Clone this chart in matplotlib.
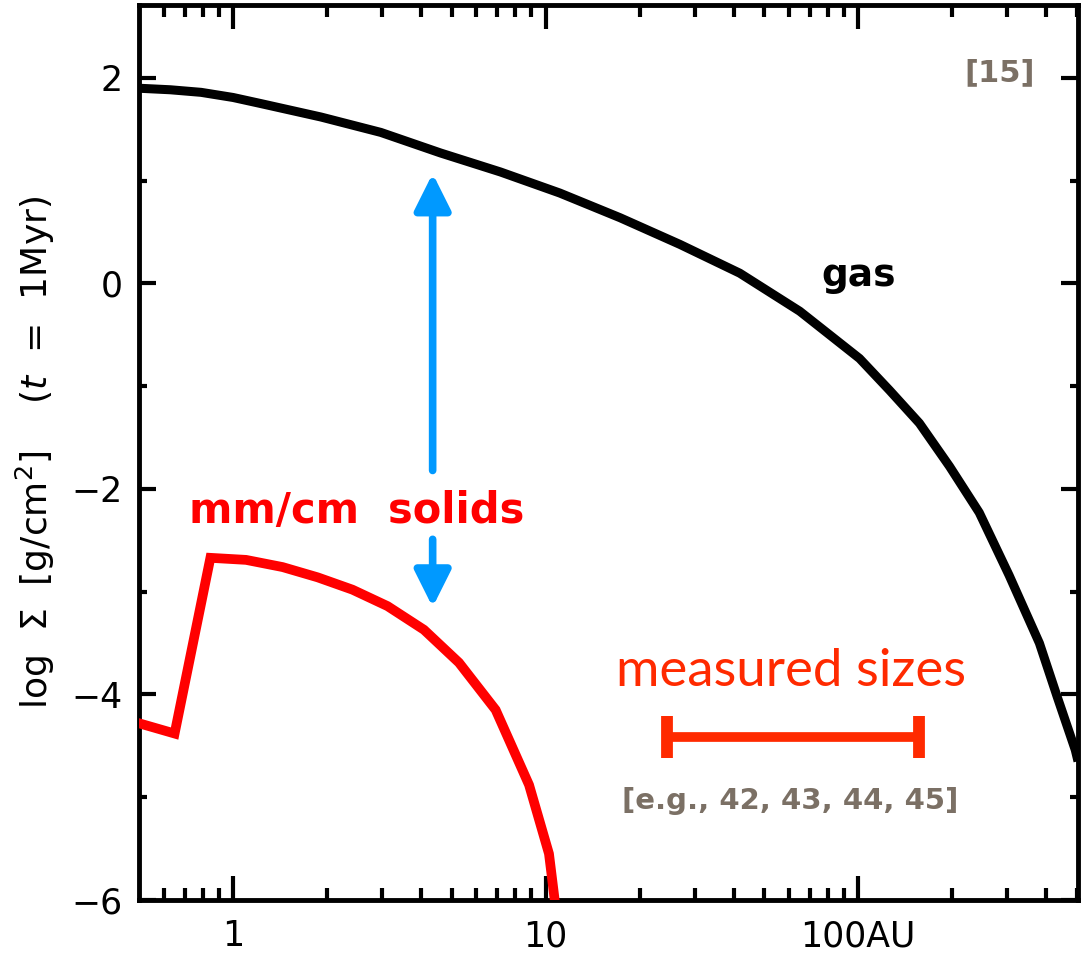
import matplotlib
matplotlib.use("Agg")
import matplotlib.pyplot as plt
from matplotlib.ticker import FixedLocator, NullFormatter

# ---- data ----
gas_r = [0.5, 0.63, 0.79, 1.0, 1.23, 1.91, 2.97, 4.61, 7.17, 11.1, 17.3, 26.9, 41.8, 65.0, 101.0,
         126.0, 157.0, 196.0, 244.0, 304.0, 380.0, 433.0, 495.0, 505.0]
gas_logsigma = [1.90, 1.885, 1.86, 1.81, 1.75, 1.62, 1.47, 1.27, 1.085, 0.88, 0.64, 0.38, 0.10, -0.27, -0.73,
                -1.04, -1.36, -1.78, -2.23, -2.84, -3.50, -4.02, -4.54, -4.65]

solid_r = [0.5, 0.65, 0.846, 1.10, 1.44, 1.865, 2.41, 3.12, 4.08, 5.28, 6.92, 8.85, 10.25, 11.2]
solid_logsigma = [-4.28, -4.38, -2.67, -2.69, -2.76, -2.86, -2.98, -3.14, -3.37, -3.69, -4.15, -4.88, -5.55, -6.5]

measured_range = [24.5, 156.7]
measured_level = -4.41

arrow_r = 4.35
arrow_up = [-1.82, 1.07]
arrow_down = [-2.49, -3.15]

xticks_major = [1, 10, 100]
xtick_labels = ["1", "10", "100AU"]
yticks_major = [-6, -4, -2, 0, 2]
yticks_minor = [-5, -3, -1, 1]
ytick_labels = ['\u22126', '\u22124', '\u22122', '0', '2']

plt.rcParams['mathtext.fontset'] = 'dejavusans'

fig = plt.figure(figsize=(10.81, 9.64), dpi=100)
ax = fig.add_axes([139/1081, 64/964, (1078-139)/1081, (900-5)/964])

ax.set_xscale('log')
ax.set_xlim(0.5, 505)
ax.set_ylim(-6, 2.71)

ax.plot(gas_r, gas_logsigma, color='black', lw=6.5, solid_capstyle='butt', solid_joinstyle='round', zorder=3)
ax.plot(solid_r, solid_logsigma, color='#ff0000', lw=7, solid_joinstyle='miter', zorder=3)

# measured sizes bar
mid = (measured_range[0] + measured_range[1]) / 2
ax.errorbar([mid], [measured_level],
            xerr=[[mid - measured_range[0]], [measured_range[1] - mid]],
            fmt='none', ecolor='#ff2a00', elinewidth=7, capsize=15, capthick=8.5, zorder=3)

blue = '#0099ff'
for a0, a1 in (arrow_up, arrow_down):
    ax.annotate('', xy=(arrow_r, a1), xytext=(arrow_r, a0),
                arrowprops=dict(arrowstyle='-|>,head_length=2.2,head_width=1.1', color=blue,
                                lw=5.5, shrinkA=0, shrinkB=0, mutation_scale=10))

# texts
ax.text(100, 0.07, 'gas', ha='center', va='center', fontsize=27, fontweight='bold', color='black')
ax.text(2.48, -2.21, 'mm/cm  solids', ha='center', va='center', fontsize=30, fontweight='bold', color='#ff0000')
ax.text(61, -3.78, 'measured sizes', ha='center', va='center', fontsize=38, family='Lato', color='#ff2a00')
ax.text(60.8, -5.04, '[e.g., 42, 43, 44, 45]', ha='center', va='center', fontsize=21, fontweight='bold', color='#7b7065')
ax.text(284, 2.05, '[15]', ha='center', va='center', fontsize=22, fontweight='bold', color='#7b7065')

# axes styling
for s in ax.spines.values():
    s.set_linewidth(3.5)
ax.xaxis.set_major_locator(FixedLocator(xticks_major))
ax.set_xticklabels(xtick_labels)
ax.xaxis.set_minor_locator(FixedLocator([m*d for d in (0.1, 1, 10, 100) for m in range(2, 10) if 0.5 < m*d < 505]))
ax.xaxis.set_minor_formatter(NullFormatter())
ax.yaxis.set_major_locator(FixedLocator(yticks_major))
ax.yaxis.set_minor_locator(FixedLocator(yticks_minor))
ax.set_yticklabels(ytick_labels)

ax.tick_params(axis='x', which='major', direction='in', length=17, width=3, top=True, labelsize=25, pad=14)
ax.tick_params(axis='x', which='minor', direction='in', length=8.5, width=3, top=True)
ax.tick_params(axis='y', which='major', direction='in', length=12, width=3, right=True, labelsize=25, pad=12)
ax.tick_params(axis='y', which='minor', direction='in', length=6, width=3, right=True)

ax.set_ylabel(r'log  $\Sigma$  [g/cm$^2$]    ($t$  =  1Myr)', fontsize=26, labelpad=10)

fig.savefig('out.png', dpi=100)
